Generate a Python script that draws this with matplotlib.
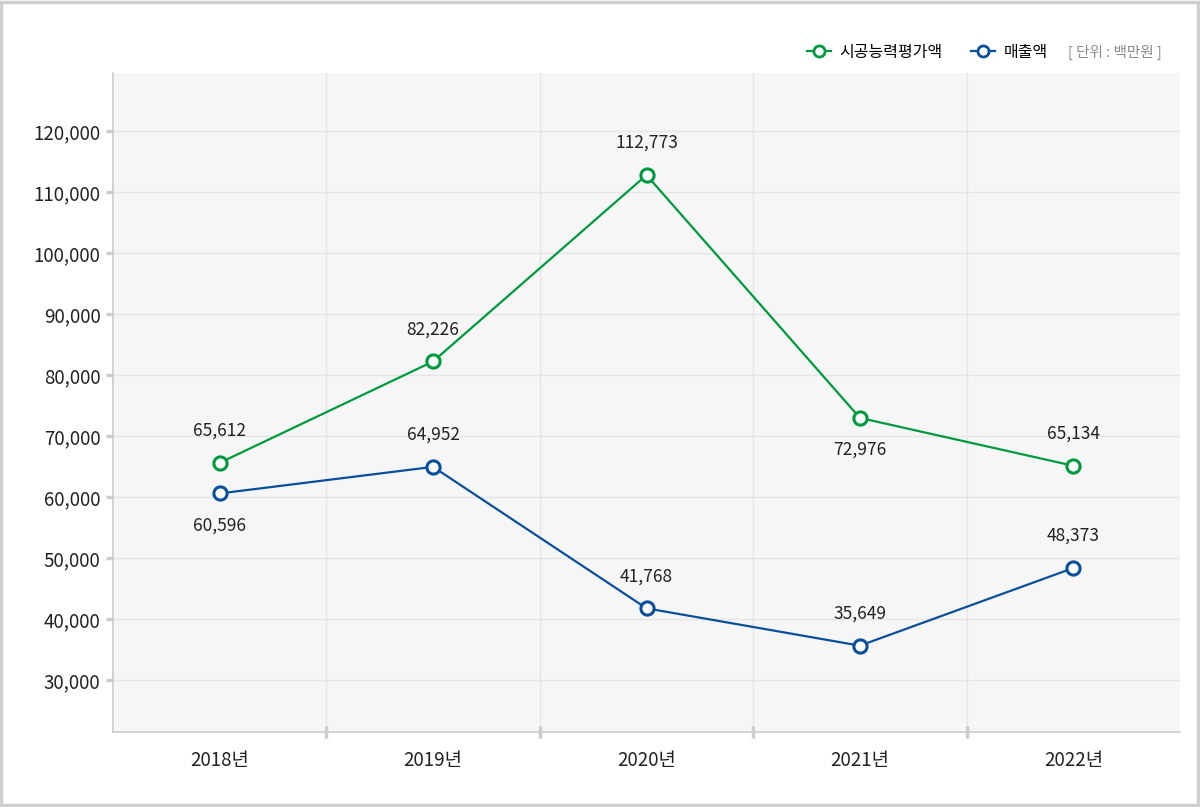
import matplotlib
matplotlib.use('Agg')
import matplotlib.pyplot as plt
from matplotlib.lines import Line2D
from matplotlib.patches import Rectangle
from matplotlib.ticker import FuncFormatter

plt.rcParams['font.family'] = ['Noto Sans CJK KR', 'DejaVu Sans']

# Data
years = ['2018년', '2019년', '2020년', '2021년', '2022년']
capacity = [65612, 82226, 112773, 72976, 65134]   # 시공능력평가액
sales = [60596, 64952, 41768, 35649, 48373]       # 매출액
capacity_label_pos = ['above', 'above', 'above', 'below', 'above']
sales_label_pos = ['below', 'above', 'above', 'above', 'above']
y_ticks = [30000, 40000, 50000, 60000, 70000, 80000, 90000, 100000, 110000, 120000]

GREEN = '#009a3e'
BLUE = '#0a4f9c'
GRID = '#e6e6e6'
SPINE = '#cccccc'

fig = plt.figure(figsize=(12, 8.07), dpi=100, facecolor='white')
ax = fig.add_axes([113 / 1200, 75 / 807, 1067 / 1200, 659 / 807])
ax.set_facecolor('#f6f6f6')

x = list(range(len(years)))
style = dict(marker='o', markersize=9.5, markerfacecolor='white',
             markeredgewidth=2.2, linewidth=1.6, zorder=3)
ax.plot(x, capacity, color=GREEN, markeredgecolor=GREEN, **style)
ax.plot(x, sales, color=BLUE, markeredgecolor=BLUE, **style)

for xs, vals, pos in [(x, capacity, capacity_label_pos), (x, sales, sales_label_pos)]:
    for xi, v, p in zip(xs, vals, pos):
        off = 23 if p == 'above' else -23
        ax.annotate(f'{v:,}', (xi, v), xytext=(0, off), textcoords='offset points',
                    ha='center', va='center', fontsize=12.5, color='#222222', zorder=4)

ax.set_xlim(-0.5, len(years) - 0.5)
ax.set_ylim(21500, 129500)

ax.set_yticks(y_ticks)
ax.yaxis.set_major_formatter(FuncFormatter(lambda v, _: f'{int(v):,}'))
ax.set_xticks(x)
ax.set_xticklabels(years)
ax.set_xticks([i + 0.5 for i in x[:-1]], minor=True)

ax.tick_params(axis='y', length=5, width=2.5, color=SPINE, labelsize=13.5,
               labelcolor='#222222', pad=4)
ax.tick_params(axis='x', which='major', length=0, labelsize=13.5,
               labelcolor='#222222', pad=13)
ax.tick_params(axis='x', which='minor', length=8, width=2.5, color=SPINE,
               direction='inout')

ax.grid(axis='y', color=GRID, linewidth=1)
ax.grid(axis='x', which='minor', color=GRID, linewidth=1)
ax.set_axisbelow(True)

for s in ['top', 'right']:
    ax.spines[s].set_visible(False)
for s in ['left', 'bottom']:
    ax.spines[s].set_color(SPINE)
    ax.spines[s].set_linewidth(1.2)

# Legend
handles = [
    Line2D([], [], color=GREEN, marker='o', markersize=8, markerfacecolor='white',
           markeredgecolor=GREEN, markeredgewidth=2, linewidth=1.6),
    Line2D([], [], color=BLUE, marker='o', markersize=8, markerfacecolor='white',
           markeredgecolor=BLUE, markeredgewidth=2, linewidth=1.6),
]
fig.legend(handles, ['시공능력평가액', '매출액'], loc='center right',
           bbox_to_anchor=(1062 / 1200, 1 - 52 / 807), ncol=2, frameon=False,
           fontsize=11.5, handlelength=1.5, handletextpad=0.5, columnspacing=1.8)
fig.text(1162 / 1200, 1 - 52 / 807, '[ 단위 : 백만원 ]', ha='right', va='center',
         fontsize=10.5, color='#8a8a8a')

# Outer border
fig.patches.append(Rectangle((0.001, 0.002), 0.997, 0.995, transform=fig.transFigure,
                             fill=False, edgecolor='#cfcfcf', linewidth=2.5))

fig.savefig('out.png', dpi=100, facecolor='white')
